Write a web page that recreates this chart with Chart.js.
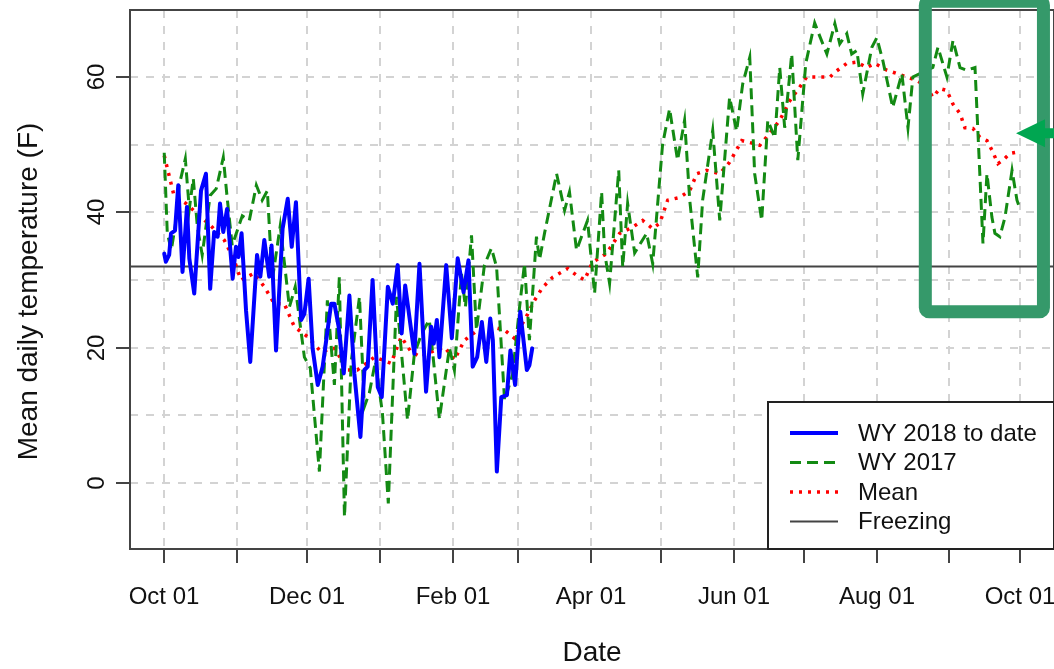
<!DOCTYPE html>
<html lang="en">
<head>
    <meta charset="utf-8"/>
    <script src="https://cdn.jsdelivr.net/npm/chart.js@4.4.1/dist/chart.umd.min.js"></script>
    <style>
        html, body { margin: 0; padding: 0; background: #fff; }
        #wrap { width: 1054px; height: 669px; }
    </style>
</head>
<body>
    <div id="wrap"><canvas id="temps" width="1054" height="669"></canvas></div>
    <script>
        // days since Oct 01 (water year day) and mean daily temperature (F)
        const wy2018Day = [0, 0.7, 2.1, 2.9, 4.6, 6, 7.8, 9.7, 10.7, 12.8, 15.7, 17.8, 19.6, 21.3, 22.8, 23.8, 25.2, 26.8, 29.2, 30.6,
            31.7, 33, 34.9, 36.7, 39.6, 41, 42.7, 44.8, 45.8, 47.7, 50.5, 52.7, 54.4, 56.2, 58.4, 59.8, 61.6, 63.3, 65.5, 67.6,
            71.2, 72.6, 74.4, 76.6, 79, 81.1, 83.7, 85.4, 86.8, 88.9, 91.1, 92.8, 95.4, 97.5, 99.6, 101.3, 102.8, 106.7, 108.9, 111.7,
            113.9, 115, 116.3, 117.4, 120.3, 122.7, 125.2, 127.7, 129.8, 131.6, 133.5, 135.5, 137.4, 139.1, 140.2, 141.9, 143.8, 146.2, 147.7, 149.7,
            151.9, 154.7, 155.8, 157];
        const wy2018Temp = [33.9, 32.7, 33.7, 36.9, 37.3, 44, 31.2, 40.8, 33.2, 28, 43.2, 45.7, 28.7, 37.1, 36.4, 41.3, 37.1, 40.5, 30.2, 34.9,
            33.4, 36.9, 25.5, 17.9, 33.7, 30.5, 35.9, 30.5, 35.1, 19.6, 37.6, 42, 34.9, 41.5, 24.1, 25, 30.2, 19.9, 14.5, 17.2,
            26.5, 26.5, 23.1, 16.2, 27.7, 16.2, 6.8, 16.7, 17.2, 30, 14.2, 12.7, 29, 26.5, 32.2, 22.1, 29.2, 19.1, 32.4, 13.5,
            23.1, 20.6, 24.1, 18.6, 32.2, 21.4, 33.2, 28.2, 32.9, 17.2, 18.6, 23.8, 17.9, 24.3, 21.1, 1.7, 12.7, 13, 19.6, 14.5,
            25.3, 16.7, 17.4, 19.9];

        const wy2017Day = [0, 1.3, 3, 4.7, 6.4, 9, 10.7, 12.4, 14.1, 16.2, 19.6, 22.2, 25.2, 26.9, 29, 33.3, 36.3, 39.3, 41.8, 44,
            46.1, 49.5, 53.4, 55.9, 59.8, 62.3, 66.2, 69.6, 72.6, 74.7, 76.9, 79.8, 83.3, 85.4, 87.5, 90.1, 93.1, 95.6, 99.1, 103.8,
            106.7, 109.7, 113.1, 117.4, 121.7, 123.8, 126.8, 128.5, 131.1, 133.2, 136.6, 139.6, 141.8, 145.2, 148.6, 151.6, 153.7, 155.8, 158.8, 160.1,
            162.3, 167.4, 170.8, 172.9, 175.9, 180.6, 183.6, 186.6, 187.9, 190, 193.9, 195.6, 197.7, 200.7, 205.8, 208.4, 212.6, 215.6, 219, 222,
            224.2, 227.6, 229.7, 234, 237, 241.2, 244.2, 246.8, 249.8, 251.9, 254.9, 257.5, 260.5, 262.6, 264.7, 267.7, 270.3, 273.7, 277.5, 279.7,
            282.7, 286.1, 288.2, 291.2, 293.3, 295.5, 298, 301.9, 304, 306.6, 310.8, 314.7, 317.3, 319.4, 322.4, 327.9, 330.1, 333.9, 336.5, 339.5,
            342.4, 345.9, 349.3, 351, 353.1, 354.4, 356.5, 358.7, 361.7, 363.8, 364.6];
        const wy2017Temp = [48.8, 37, 34.4, 38, 44, 47.9, 40.5, 45, 38, 33.7, 42.5, 43.5, 48.1, 42, 35.1, 39.5, 38.8, 44, 41.8, 43.2,
            30, 38, 26, 29, 18.6, 17, 1.7, 27, 14.5, 30.4, -5, 18, 27.5, 11.3, 13.3, 18, 10.3, -3, 27.5, 9.3,
            19, 22, 24.1, 9.5, 20, 16.7, 31, 26, 36.6, 22.6, 32.2, 34.7, 31.9, 12.2, 16, 26, 32.4, 21.1, 36.4, 33,
            37, 45.7, 40.3, 43, 34.4, 38.8, 28, 43, 34, 29.5, 46.2, 31.9, 41.3, 34, 36.9, 32.4, 50, 55.3, 47.7, 53.6,
            41.8, 30.4, 41.8, 52.1, 38.8, 57, 52, 59, 62.9, 45.7, 38.8, 53.6, 51, 61.4, 52.5, 63.4, 47.7, 62, 68, 66,
            63.4, 67.9, 64.9, 66.4, 63.4, 63.9, 57.5, 64.4, 65.8, 62.4, 55.5, 60.5, 52.5, 60, 60.5, 61.4, 64.4, 60, 65.4, 61.4,
            61, 61.4, 35.4, 45.7, 39.3, 36.9, 36.4, 39.3, 46.2, 41.8, 41];

        const meanDay = [0, 0.7, 4.3, 9.3, 14.1, 20.5, 25.6, 29.9, 32.7, 38.4, 42.7, 47, 51.2, 55.5, 61.2, 66.9, 72.6, 78.3, 82.4, 89.7,
            96.8, 101.1, 105.3, 109.6, 115.3, 119.6, 123.8, 128.1, 133.8, 139.5, 145.2, 149.4, 155.1, 158, 161.4, 165.7, 172.1, 175.9, 179.3, 182.7,
            188.7, 194.3, 199.8, 204.1, 208.4, 211.4, 214.8, 219.9, 224.2, 227.2, 231.4, 237, 241.2, 246.4, 251.1, 254.1, 258.3, 262.6, 266.9, 271.1,
            274.1, 279.7, 284.1, 286.1, 291.2, 295.5, 299.7, 303.2, 308.3, 312.6, 316.8, 321.1, 325.4, 327.9, 330.9, 333.9, 336.5, 339.5, 341.6, 345,
            348, 351, 353.1, 355.7, 357.8, 360.8, 363.8];
        const meanTemp = [48.4, 47.4, 42.3, 41.3, 39.8, 37.8, 35.9, 32.9, 30, 31, 29, 26.5, 26.5, 23.1, 21.6, 19.4, 19.9, 16.7, 16.7, 18.6,
            17.7, 21.6, 19.4, 18.6, 19.6, 20.1, 18.2, 21.1, 22.6, 23.1, 22.6, 21.4, 25, 27, 28.9, 30.4, 31.7, 30.7, 30, 32.6,
            33.9, 36.9, 37.8, 38.8, 37.6, 38.4, 41.8, 42.2, 43.2, 45.7, 46.2, 45.7, 47.4, 50.6, 50.2, 49.9, 51.7, 53.6, 56.5, 58.5,
            60, 60, 60, 60.7, 62, 62.2, 61.4, 62, 61, 60.5, 60, 59.5, 58.5, 57, 58.3, 58, 56, 54.6, 52.5, 52.4,
            51.1, 50.6, 49.2, 47.2, 47.7, 48.7, 48.9];

        const freezing = 32;

        // month starts (days since Oct 01); R labels every other one
        const monthTicks = [0, 31, 61, 92, 123, 151, 182, 212, 243, 273, 304, 335, 365];
        const monthLabels = ['Oct 01', '', 'Dec 01', '', 'Feb 01', '', 'Apr 01', '', 'Jun 01', '', 'Aug 01', '', 'Oct 01'];
        const tempTicks = [0, 20, 40, 60];
        const tempGrid = [0, 10, 20, 30, 40, 50, 60];

        // highlight box drawn on the figure (days, temps)
        const boxDays = [324.7, 375.1];
        const boxTemps = [71.2, 25.3];
        const arrowAt = { x: 363.4, y: 51.7 };

        const FONT = '"Liberation Sans", Arial, sans-serif';

        function toPoints(xs, ys) {
            return xs.map(function (x, i) { return { x: x, y: ys[i] }; });
        }

        const rBase = {
            id: 'rBase',
            beforeDatasetsDraw(chart) {
                const ctx = chart.ctx, a = chart.chartArea;
                const xs = chart.scales.x, ys = chart.scales.y;
                ctx.save();
                ctx.strokeStyle = '#d3d3d3';
                ctx.lineWidth = 2;
                ctx.setLineDash([8, 8]);
                monthTicks.forEach(function (d) {
                    const px = Math.round(xs.getPixelForValue(d));
                    ctx.beginPath(); ctx.moveTo(px, a.top); ctx.lineTo(px, a.bottom); ctx.stroke();
                });
                tempGrid.forEach(function (t) {
                    const py = Math.round(ys.getPixelForValue(t));
                    ctx.beginPath(); ctx.moveTo(a.left, py); ctx.lineTo(a.right, py); ctx.stroke();
                });
                ctx.restore();
            },
            afterDatasetsDraw(chart) {
                const ctx = chart.ctx, a = chart.chartArea;
                const xs = chart.scales.x, ys = chart.scales.y;
                ctx.save();

                // frame
                ctx.strokeStyle = '#444';
                ctx.lineWidth = 2;
                ctx.strokeRect(a.left, a.top, a.right - a.left, a.bottom - a.top);

                // x axis ticks and labels
                ctx.fillStyle = '#111';
                ctx.font = '24px ' + FONT;
                ctx.textAlign = 'center';
                ctx.textBaseline = 'middle';
                monthTicks.forEach(function (d, i) {
                    const px = Math.round(xs.getPixelForValue(d));
                    ctx.beginPath(); ctx.moveTo(px, a.bottom); ctx.lineTo(px, a.bottom + 14); ctx.stroke();
                    if (monthLabels[i]) ctx.fillText(monthLabels[i], px, a.bottom + 48);
                });

                // y axis ticks and rotated labels
                tempTicks.forEach(function (t) {
                    const py = Math.round(ys.getPixelForValue(t));
                    ctx.beginPath(); ctx.moveTo(a.left, py); ctx.lineTo(a.left - 14, py); ctx.stroke();
                    ctx.save();
                    ctx.translate(a.left - 33, py);
                    ctx.rotate(-Math.PI / 2);
                    ctx.fillText(String(t), 0, 0);
                    ctx.restore();
                });

                // axis titles
                ctx.font = '28px ' + FONT;
                ctx.fillText('Date', (a.left + a.right) / 2 + 0, a.bottom + 104);
                ctx.save();
                ctx.translate(29, (a.top + a.bottom) / 2 + 12);
                ctx.rotate(-Math.PI / 2);
                ctx.fillText('Mean daily temperature (F)', 0, 0);
                ctx.restore();

                // legend, bottom right
                const lw = 286, lh = 147;
                const lx = a.right - lw, ly = a.bottom - lh;
                ctx.fillStyle = '#fff';
                ctx.fillRect(lx, ly, lw, lh);
                ctx.strokeStyle = '#222';
                ctx.lineWidth = 2;
                ctx.strokeRect(lx, ly, lw, lh);
                ctx.font = '24px ' + FONT;
                ctx.textAlign = 'left';
                chart.data.datasets.forEach(function (ds, i) {
                    const ry = ly + 31 + i * 29.5;
                    ctx.strokeStyle = ds.borderColor;
                    ctx.lineWidth = ds.borderWidth;
                    ctx.setLineDash(ds.borderDash || []);
                    ctx.lineCap = 'butt';
                    ctx.beginPath(); ctx.moveTo(lx + 22, ry); ctx.lineTo(lx + 70, ry); ctx.stroke();
                    ctx.setLineDash([]);
                    ctx.fillStyle = '#111';
                    ctx.fillText(ds.label, lx + 90, ry + 1);
                });

                // highlight box and arrow
                const bx0 = xs.getPixelForValue(boxDays[0]), bx1 = xs.getPixelForValue(boxDays[1]);
                const by0 = ys.getPixelForValue(boxTemps[0]), by1 = ys.getPixelForValue(boxTemps[1]);
                ctx.strokeStyle = '#35996a';
                ctx.lineWidth = 13;
                ctx.lineJoin = 'round';
                ctx.beginPath();
                ctx.roundRect(bx0, by0, bx1 - bx0, by1 - by0, 4);
                ctx.stroke();

                const tx = xs.getPixelForValue(arrowAt.x), ty = ys.getPixelForValue(arrowAt.y);
                ctx.fillStyle = '#00a651';
                ctx.beginPath();
                ctx.moveTo(tx, ty);
                ctx.lineTo(tx + 29, ty - 14);
                ctx.lineTo(tx + 29, ty - 5);
                ctx.lineTo(tx + 60, ty - 5);
                ctx.lineTo(tx + 60, ty + 5);
                ctx.lineTo(tx + 29, ty + 5);
                ctx.lineTo(tx + 29, ty + 14);
                ctx.closePath();
                ctx.fill();

                ctx.restore();
            }
        };

        const chartData = {
            datasets: [
                {
                    label: 'WY 2018 to date',
                    data: toPoints(wy2018Day, wy2018Temp),
                    borderColor: '#0000ff',
                    borderWidth: 4,
                    borderJoinStyle: 'round',
                    borderCapStyle: 'round'
                },
                {
                    label: 'WY 2017',
                    data: toPoints(wy2017Day, wy2017Temp),
                    borderColor: '#138a13',
                    borderWidth: 3,
                    borderDash: [11, 6]
                },
                {
                    label: 'Mean',
                    data: toPoints(meanDay, meanTemp),
                    borderColor: '#ff0000',
                    borderWidth: 3.5,
                    borderDash: [3, 6]
                },
                {
                    label: 'Freezing',
                    data: [{ x: -14.6, y: freezing }, { x: 379.6, y: freezing }],
                    borderColor: '#444',
                    borderWidth: 2
                }
            ]
        };

        const config = {
            type: 'line',
            data: chartData,
            options: {
                responsive: false,
                animation: false,
                devicePixelRatio: 1,
                layout: { padding: { top: 10, right: 0, left: 0, bottom: 0 } },
                elements: { point: { radius: 0 }, line: { tension: 0, fill: false } },
                plugins: { legend: { display: false }, tooltip: { enabled: false } },
                scales: {
                    x: {
                        type: 'linear',
                        min: -14.6,
                        max: 379.6,
                        ticks: { display: false },
                        grid: { display: false },
                        border: { display: false },
                        afterFit: function (s) { s.height = 120; }
                    },
                    y: {
                        min: -9.75,
                        max: 69.9,
                        ticks: { display: false },
                        grid: { display: false },
                        border: { display: false },
                        afterFit: function (s) { s.width = 130; }
                    }
                }
            },
            plugins: [rBase]
        };

        new Chart(document.getElementById('temps'), config);
    </script>
</body>
</html>
